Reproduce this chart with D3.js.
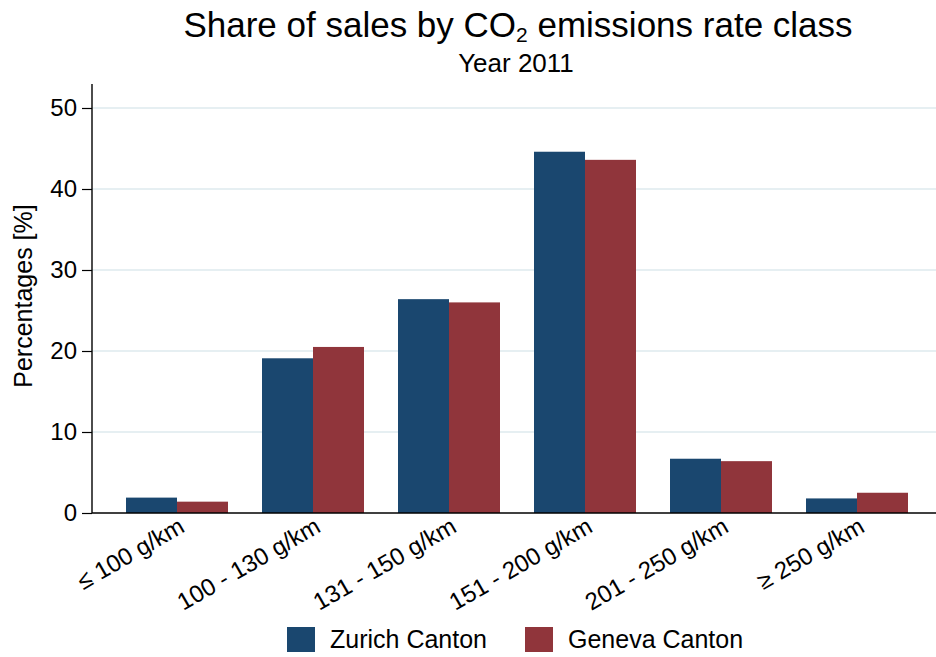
<!DOCTYPE html>
<html>
<head>
<meta charset="utf-8">
<script src="https://cdn.jsdelivr.net/npm/d3@7"></script>
<style>
  html, body { margin: 0; padding: 0; background: #fff; }
  svg { display: block; font-family: "Liberation Sans", Arial, Helvetica, sans-serif; }
</style>
</head>
<body>
<svg id="chart" width="936" height="657"></svg>
<script>
const categories = ["≤ 100 g/km", "100 - 130 g/km", "131 - 150 g/km", "151 - 200 g/km", "201 - 250 g/km", "≥ 250 g/km"];
const seriesNames = ["Zurich Canton", "Geneva Canton"];
const zurich = [1.9, 19.1, 26.4, 44.6, 6.7, 1.8];
const geneva = [1.4, 20.5, 26.0, 43.6, 6.4, 2.5];
const yTicks = [0, 10, 20, 30, 40, 50];
const colors = ["#1a476f", "#90353b"];

const svg = d3.select("#chart");
const W = 936, H = 657;
const plotLeft = 92, plotBottom = 513, plotTop = 84;

const y = d3.scaleLinear().domain([0, 50]).range([plotBottom, 108]);
const x0 = d3.scaleBand().domain(categories).range([plotLeft, 942]).paddingInner(0.25).paddingOuter(0.25);
const x1 = d3.scaleBand().domain(seriesNames).range([0, x0.bandwidth()]);

// gridlines
svg.append("g").selectAll("line").data(yTicks.filter(d => d > 0)).join("line")
  .attr("x1", plotLeft).attr("x2", W)
  .attr("y1", d => y(d)).attr("y2", d => y(d))
  .attr("stroke", "#e6eff2").attr("stroke-width", 1.8);

// bars
const data = categories.map((c, i) => ({ c, vals: [zurich[i], geneva[i]] }));
const groups = svg.append("g").selectAll("g").data(data).join("g")
  .attr("transform", d => `translate(${x0(d.c)},0)`);
groups.selectAll("rect").data(d => d.vals.map((v, k) => ({ v, k }))).join("rect")
  .attr("x", d => x1(seriesNames[d.k]))
  .attr("width", x1.bandwidth())
  .attr("y", d => y(d.v))
  .attr("height", d => y(0) - y(d.v))
  .attr("fill", d => colors[d.k]);

// y axis
const yAxis = svg.append("g").attr("transform", `translate(${plotLeft},0)`)
  .call(d3.axisLeft(y).tickValues(yTicks).tickSize(10).tickPadding(5));
yAxis.select(".domain").remove();
yAxis.append("line").attr("x1", 0).attr("x2", 0).attr("y1", plotTop).attr("y2", plotBottom)
  .attr("stroke", "#000").attr("stroke-width", 1.4);
yAxis.selectAll(".tick line").attr("stroke", "#000").attr("stroke-width", 1.2);
yAxis.selectAll(".tick text").attr("font-size", 24).attr("fill", "#000")
  .attr("font-family", "'Liberation Sans', Arial, sans-serif");

// x axis
const xAxis = svg.append("g").attr("transform", `translate(0,${plotBottom})`)
  .call(d3.axisBottom(x0).tickSize(0).tickPadding(0));
xAxis.select(".domain").remove();
xAxis.append("line").attr("x1", plotLeft).attr("x2", W).attr("y1", 0).attr("y2", 0)
  .attr("stroke", "#000").attr("stroke-width", 1.4);
xAxis.selectAll(".tick text")
  .attr("font-size", 24).attr("fill", "#000")
  .attr("font-family", "'Liberation Sans', Arial, sans-serif")
  .attr("text-anchor", "end")
  .attr("y", 0).attr("dy", 0)
  .attr("transform", "translate(9,18) rotate(-30)");

// y title
svg.append("text")
  .attr("transform", `translate(32,296) rotate(-90)`)
  .attr("text-anchor", "middle")
  .attr("font-size", 25).attr("fill", "#000")
  .text("Percentages [%]");

// title
const title = svg.append("text").attr("x", 518).attr("y", 37)
  .attr("text-anchor", "middle").attr("font-size", 35).attr("fill", "#000");
title.append("tspan").text("Share of sales by CO");
title.append("tspan").attr("font-size", 21).attr("dy", 5).text("2");
title.append("tspan").attr("dy", -5).text(" emissions rate class");

svg.append("text").attr("x", 516).attr("y", 72)
  .attr("text-anchor", "middle").attr("font-size", 26).attr("fill", "#000")
  .text("Year 2011");

// legend
const legendX = [287, 525];
const lg = svg.append("g").selectAll("g").data(seriesNames).join("g")
  .attr("transform", (d, i) => `translate(${legendX[i]},627)`);
lg.append("rect").attr("width", 28).attr("height", 25).attr("fill", (d, i) => colors[i]);
lg.append("text").attr("x", 43).attr("y", 21).attr("font-size", 25).attr("fill", "#000").text(d => d);
</script>
</body>
</html>
